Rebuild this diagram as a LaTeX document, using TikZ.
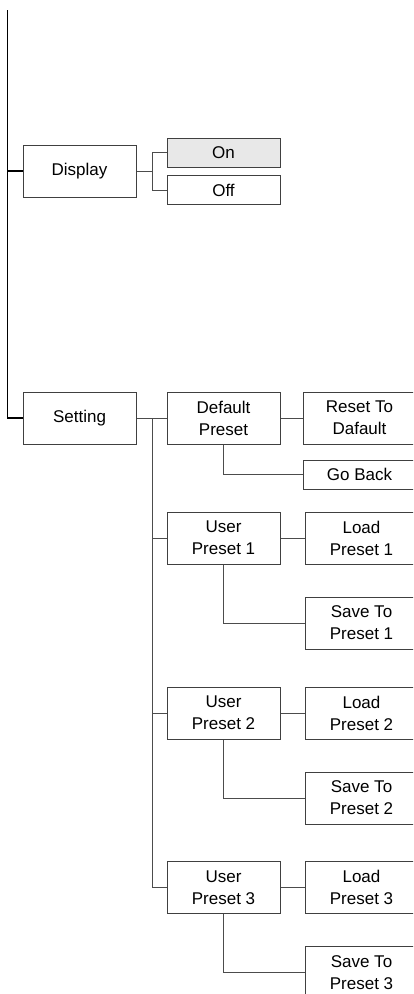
\documentclass[tikz,border=0pt]{standalone}
\usepackage{fontspec}
\setmainfont{Liberation Sans}
\usepackage{tikz}
\usetikzlibrary{positioning, calc}

\begin{document}
\begin{tikzpicture}[x=1pt, y=-1pt,
    menubox/.style={draw=black!75, line width=1pt, minimum width=113pt, minimum height=52pt,
      inner sep=0pt, align=center, font=\fontsize{17}{22}\selectfont},
    slimbox/.style={menubox, minimum height=29pt},
    link/.style={draw=black!70, line width=0.9pt}]
  \useasboundingbox (0,0) rectangle (413,994);
  \clip (0,0) rectangle (413,994);

  % left column
  \coordinate (top) at (7.5,10);
  \node[menubox] (display) at (79.5,171) {Display};
  \node[menubox] (setting) at (79.5,418) {Setting};
  \draw[line width=1.1pt] (top) |- (setting);
  \draw[line width=1.1pt] (display.west) -- (display.west -| top);

  % display options
  \node[slimbox, fill=black!9] (on) at (223.5,152.5) {On};
  \node[slimbox] (off) at (223.5,190) {Off};
  \coordinate (dfork) at (152,171);
  \draw[link] (display) -- (dfork) |- (on);
  \draw[link] (dfork) |- (off);

  % setting tree
  \node[menubox] (defpre) at (223.5,418) {Default\\Preset};
  \node[menubox] (reset) at (359.5,418) {Reset To\\Dafault};
  \node[slimbox] (goback) at (359.5,474.5) {Go Back};
  \draw[link] (defpre) -- (reset);
  \draw[link] (defpre.south) |- (goback);

  \coordinate (sfork) at (152,418);
  \draw[link] (setting) -- (defpre);

  \foreach \i/\y in {1/538, 2/713, 3/887.5} {
    \node[menubox] (up\i) at (223.5,\y) {User\\Preset \i};
    \node[menubox, right=24pt of up\i] (load\i) {Load\\Preset \i};
    \node[menubox, below=32pt of load\i] (save\i) {Save To\\Preset \i};
    \draw[link] (up\i) -- (load\i);
    \draw[link] (up\i.south) |- (save\i);
    \draw[link] (sfork) |- (up\i);
  }
\end{tikzpicture}
\end{document}
